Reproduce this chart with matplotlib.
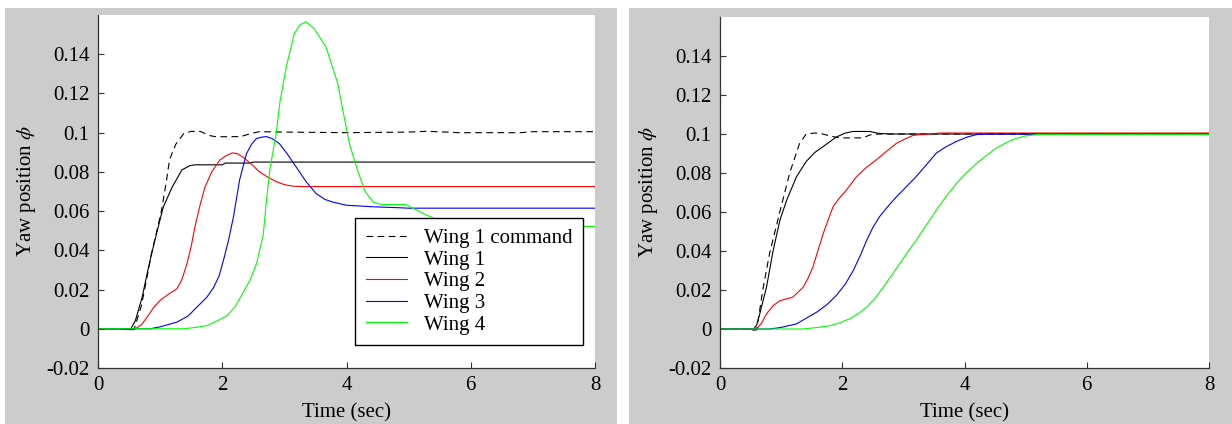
import numpy as np
import matplotlib
matplotlib.use('Agg')
import matplotlib.pyplot as plt
from matplotlib.patches import Rectangle
from matplotlib.ticker import FormatStrFormatter

plt.rcParams['font.family'] = ['Liberation Serif', 'DejaVu Serif']
plt.rcParams['mathtext.fontset'] = 'stix'
plt.rcParams['axes.unicode_minus'] = False

# ---- left panel ----
cmd_t_a = [0, 0.4, 0.5, 0.58, 0.7, 0.86, 1.02, 1.1, 1.15, 1.25, 1.38, 1.5, 1.65, 1.8, 1.9, 2.3,
           2.45, 2.6, 3.0, 4.0, 5.0, 5.3, 5.6, 5.8, 6.8, 7.0, 8.0]
cmd_a = [0, 0, -0.0005, -0.0004, 0.012, 0.038, 0.060, 0.075, 0.086, 0.094, 0.0995, 0.1007, 0.1006,
         0.0985, 0.0979, 0.098, 0.0995, 0.1005, 0.1003, 0.1, 0.1003, 0.1007, 0.1003, 0.1, 0.1,
         0.1005, 0.1005]

w1_t_a = [0, 0.45, 0.52, 0.6, 0.71, 0.79, 0.86, 0.97, 1.05, 1.19, 1.35, 1.48, 1.56, 2.0, 2.05,
          2.45, 2.5, 8]
w1_a = [0, 0, -0.0005, 0.004, 0.016, 0.028, 0.038, 0.052, 0.062, 0.072, 0.081, 0.0832, 0.0836,
        0.0836, 0.0845, 0.0845, 0.085, 0.085]

w2_t_a = [0, 0.6, 0.7, 0.79, 0.9, 1.0, 1.15, 1.27, 1.35, 1.43, 1.5, 1.56, 1.65, 1.72, 1.83, 1.96,
          2.05, 2.16, 2.25, 2.33, 2.45, 2.6, 2.75, 2.87, 3.0, 3.14, 3.3, 8]
w2_a = [0, 0, 0.002, 0.006, 0.011, 0.0145, 0.018, 0.0204, 0.025, 0.033, 0.042, 0.052, 0.064, 0.072,
        0.080, 0.086, 0.088, 0.0897, 0.0892, 0.0876, 0.0845, 0.080, 0.077, 0.075, 0.0735, 0.0727,
        0.0725, 0.0725]

w3_t_a = [0, 0.84, 1.0, 1.27, 1.45, 1.59, 1.75, 1.86, 1.95, 2.02, 2.1, 2.18, 2.28, 2.39, 2.47, 2.55,
          2.65, 2.71, 2.8, 2.92, 3.05, 3.19, 3.35, 3.51, 3.65, 3.78, 4.0, 4.43, 4.86, 5.0, 8]
w3_a = [0, 0, 0.001, 0.0034, 0.0065, 0.011, 0.016, 0.021, 0.027, 0.035, 0.045, 0.057, 0.076, 0.0893,
        0.094, 0.097, 0.0978, 0.098, 0.097, 0.0944, 0.089, 0.0825, 0.075, 0.069, 0.066, 0.0646,
        0.063, 0.0622, 0.0617, 0.0615, 0.0615]

w4_t_a = [0, 1.38, 1.6, 1.76, 1.95, 2.08, 2.2, 2.34, 2.45, 2.55, 2.66, 2.71, 2.77, 2.87, 2.93, 3.03,
          3.16, 3.25, 3.35, 3.48, 3.67, 3.86, 3.95, 4.05, 4.18, 4.3, 4.43, 4.56, 4.95, 5.1, 5.27,
          5.5, 5.8, 6.2, 8]
w4_a = [0, 0, 0.0008, 0.0017, 0.0045, 0.0068, 0.011, 0.0187, 0.025, 0.033, 0.048, 0.065, 0.082,
        0.1, 0.116, 0.1335, 0.1505, 0.155, 0.1565, 0.153, 0.1437, 0.125, 0.11, 0.094, 0.0807, 0.07,
        0.0646, 0.0634, 0.0634, 0.061, 0.0583, 0.055, 0.053, 0.0522, 0.0522]

# ---- right panel ----
cmd_t_b = [0, 0.45, 0.5, 0.6, 0.7, 0.81, 0.97, 1.14, 1.3, 1.41, 1.55, 1.68, 1.8, 1.95, 2.34, 2.45,
           2.6, 3.0, 4.0, 5.0, 8]
cmd_b = [0, 0, -0.0006, -0.0005, 0.02, 0.0386, 0.059, 0.080, 0.095, 0.1, 0.1005, 0.1, 0.099, 0.098,
         0.098, 0.0995, 0.1, 0.1, 0.1, 0.1, 0.1]

w1_t_b = [0, 0.5, 0.54, 0.6, 0.65, 0.76, 0.87, 0.98, 1.09, 1.25, 1.41, 1.55, 1.69, 1.9, 2.05, 2.18,
          2.45, 2.6, 2.78, 8]
w1_b = [0, 0, -0.0005, 0.002, 0.0077, 0.0214, 0.0403, 0.0558, 0.066, 0.078, 0.0859, 0.0905, 0.0936,
        0.0984, 0.1005, 0.1013, 0.1013, 0.1003, 0.1, 0.1]

w2_t_b = [0, 0.6, 0.68, 0.76, 0.87, 0.98, 1.19, 1.36, 1.44, 1.52, 1.6, 1.69, 1.77, 1.85, 1.95, 2.07,
          2.23, 2.4, 2.56, 2.72, 2.89, 3.03, 3.16, 3.4, 3.6, 8]
w2_b = [0, 0, 0.003, 0.0077, 0.012, 0.0145, 0.0163, 0.0214, 0.026, 0.0318, 0.040, 0.049, 0.056,
        0.0627, 0.067, 0.0713, 0.078, 0.083, 0.0868, 0.091, 0.0953, 0.0975, 0.0993, 0.1, 0.1005,
        0.1005]

w3_t_b = [0, 0.81, 1.0, 1.25, 1.58, 1.75, 1.9, 2.05, 2.18, 2.3, 2.4, 2.5, 2.61, 2.75, 2.89, 3.05,
          3.21, 3.37, 3.54, 3.7, 3.87, 4.05, 4.2, 4.4, 8]
w3_b = [0, 0, 0.0008, 0.0026, 0.0086, 0.0125, 0.0171, 0.023, 0.030, 0.038, 0.0455, 0.052, 0.0576,
        0.063, 0.0679, 0.073, 0.0782, 0.084, 0.0902, 0.0935, 0.0962, 0.0985, 0.0997, 0.1, 0.1]

w4_t_b = [0, 1.36, 1.6, 1.8, 1.96, 2.12, 2.26, 2.4, 2.53, 2.67, 2.8, 2.94, 3.07, 3.21, 3.37, 3.54,
          3.7, 3.87, 4.03, 4.2, 4.36, 4.52, 4.7, 4.85, 5.0, 5.2, 8]
w4_b = [0, 0, 0.0008, 0.0017, 0.0032, 0.0052, 0.0078, 0.0112, 0.0155, 0.0214, 0.0272, 0.0335,
        0.0395, 0.0455, 0.053, 0.061, 0.068, 0.0747, 0.080, 0.085, 0.089, 0.0928, 0.0958, 0.0978,
        0.099, 0.0998, 0.0998]

labels = ['Wing 1 command', 'Wing 1', 'Wing 2', 'Wing 3', 'Wing 4']
xticks = [0, 2, 4, 6, 8]
yticks = [-0.02, 0, 0.02, 0.04, 0.06, 0.08, 0.1, 0.12, 0.14]

W, H = 1232, 424
fig = plt.figure(figsize=(W / 100, H / 100), dpi=100)
fig.patch.set_facecolor('white')

# gray frames behind each panel
for x0, x1 in [(5, 617), (629, 1232)]:
    fig.patches.append(Rectangle((x0 / W, 0), (x1 - x0) / W, (H - 8) / H,
                                 transform=fig.transFigure, facecolor='#cccccc',
                                 edgecolor='none', zorder=-10))

ax1 = fig.add_axes([98 / W, (H - 368) / H, (595 - 98) / W, (368 - 15) / H])
ax2 = fig.add_axes([720 / W, (H - 368) / H, (1209 - 720) / W, (368 - 17) / H])

fs = 15
panels = [
    (ax1, [(cmd_t_a, cmd_a), (w1_t_a, w1_a), (w2_t_a, w2_a), (w3_t_a, w3_a), (w4_t_a, w4_a)]),
    (ax2, [(cmd_t_b, cmd_b), (w1_t_b, w1_b), (w2_t_b, w2_b), (w3_t_b, w3_b), (w4_t_b, w4_b)]),
]
styles = [dict(color='black', ls=(0, (6, 4))), dict(color='black'), dict(color='#ff0000'),
          dict(color='#0000ff'), dict(color='#00ff00')]

for ax, series in panels:
    for (t, v), st, lab in zip(series, styles, labels):
        ax.plot(t, v, lw=0.8, label=lab, **st)
    ax.set_xlim(0, 8)
    ax.set_ylim(-0.02, 0.16)
    ax.set_xticks(xticks)
    ax.set_yticks(yticks)
    ax.yaxis.set_major_formatter(FormatStrFormatter('%g'))
    ax.tick_params(direction='in', length=4, width=0.8, labelsize=fs, pad=6,
                   color='#333333')
    ax.spines['top'].set_visible(False)
    ax.spines['right'].set_visible(False)
    for side in ['left', 'bottom']:
        ax.spines[side].set_linewidth(0.9)
        ax.spines[side].set_color('#333333')
    ax.set_xlabel('Time (sec)', fontsize=fs, labelpad=6)
    ax.set_ylabel(r'Yaw position $\phi$', fontsize=fs, labelpad=6)

leg = ax1.legend(loc='lower right', bbox_to_anchor=(0.976, 0.065), borderaxespad=0,
                 fontsize=fs, fancybox=False, framealpha=1, edgecolor='black',
                 handlelength=2.0, handletextpad=0.8, labelspacing=0.1, borderpad=0.5)
leg.get_frame().set_linewidth(1.0)

fig.savefig('out.png', dpi=100)
